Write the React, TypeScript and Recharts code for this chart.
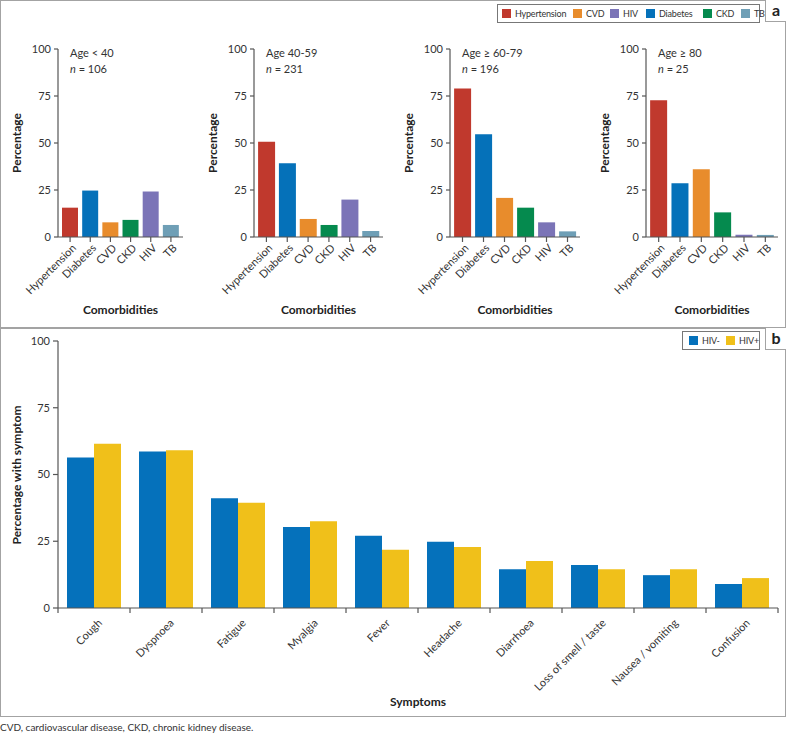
import { BarChart, Bar, XAxis, YAxis, Cell } from "recharts";

// panel a: comorbidities by age group
const comorbidities = ["Hypertension", "Diabetes", "CVD", "CKD", "HIV", "TB"];
const comorbidityColors = ["#c0392d", "#0571b9", "#e88c2c", "#058a4e", "#7b74b7", "#6f9fb6"];
const legendOrder = ["Hypertension", "CVD", "HIV", "Diabetes", "CKD", "TB"];
const ageGroups = ["Age < 40", "Age 40-59", "Age \u2265 60-79", "Age \u2265 80"];
const groupSizes = [106, 231, 196, 25];
const ageUnder40 = [15.6, 24.7, 7.8, 9.1, 24.2, 6.4];
const age40to59 = [50.7, 39.2, 9.6, 6.4, 19.9, 3.2];
const age60to79 = [79.0, 54.7, 20.8, 15.6, 7.8, 3.0];
const age80plus = [72.8, 28.6, 36.1, 13.1, 1.2, 1.1];
const ageSeries = [ageUnder40, age40to59, age60to79, age80plus];

// panel b: symptoms by HIV status
const symptoms = [
  "Cough",
  "Dyspnoea",
  "Fatigue",
  "Myalgia",
  "Fever",
  "Headache",
  "Diarrhoea",
  "Loss of smell / taste",
  "Nausea / vomiting",
  "Confusion",
];
const hivNegative = [56.4, 58.6, 41.1, 30.3, 27.1, 24.8, 14.5, 16.1, 12.3, 9.0];
const hivPositive = [61.5, 59.1, 39.4, 32.5, 21.8, 22.8, 17.6, 14.5, 14.5, 11.2];
const hivLabels = ["HIV-", "HIV+"];
const hivColors = ["#0571bb", "#f0c01a"];

const percentTicks = [0, 25, 50, 75, 100];

const FONT = "Lato, 'Open Sans', sans-serif";
const INK = "#333";
const AXIS = "#555";
const FRAME = "#a3a3a3";

const axisXs = [58, 254, 450, 646];
const plotWidths = [125, 129, 130, 132];
const legendAX = [4, 75, 112, 148, 205, 243];
const legendBX = [6, 43];

function SlantTickA({ x, y, payload }: any) {
  const ax = x + 4;
  const ay = y + 2;
  return (
    <text
      x={ax}
      y={ay}
      dy="0.35em"
      transform={`rotate(-45 ${ax} ${ay})`}
      textAnchor="end"
      fontSize={11}
      fill={INK}
      fontFamily={FONT}
    >
      {payload.value}
    </text>
  );
}

function SlantTickB({ x, y, payload, index, visibleTicksCount }: any) {
  const half = payload.offset || 36;
  const ax = x + 6;
  const ay = y + 13;
  const last = index === visibleTicksCount - 1;
  return (
    <g>
      <line x1={x - half} x2={x - half} y1={y} y2={y + 5} stroke={AXIS} strokeWidth={1.2} />
      {last && <line x1={x + half} x2={x + half} y1={y} y2={y + 5} stroke={AXIS} strokeWidth={1.2} />}
      <text
        x={ax}
        y={ay}
        dy="0.35em"
        transform={`rotate(-45 ${ax} ${ay})`}
        textAnchor="end"
        fontSize={11}
        fill={INK}
        fontFamily={FONT}
      >
        {payload.value}
      </text>
    </g>
  );
}

function AgeChart({ idx }: { idx: number }) {
  const data = comorbidities.map((name, i) => ({ name, value: ageSeries[idx][i] }));
  const axisX = axisXs[idx];
  const plotW = plotWidths[idx];
  const yW = 40;
  return (
    <div style={{ position: "absolute", left: axisX - yW, top: 0 }}>
      <BarChart
        width={yW + plotW + 4}
        height={327}
        data={data}
        margin={{ top: 49, right: 4, left: 0, bottom: 20 }}
        barCategoryGap="10%"
      >
        <XAxis
          dataKey="name"
          interval={0}
          height={70}
          tick={<SlantTickA />}
          tickSize={5}
          tickMargin={2}
          axisLine={{ stroke: AXIS, strokeWidth: 1.2 }}
          tickLine={{ stroke: AXIS, strokeWidth: 1.2 }}
          padding={{ left: 2, right: 2 }}
        />
        <YAxis
          width={yW}
          domain={[0, 100]}
          ticks={percentTicks}
          tickSize={4}
          tickMargin={3}
          axisLine={{ stroke: AXIS, strokeWidth: 1.2 }}
          tickLine={{ stroke: AXIS, strokeWidth: 1.2 }}
          tick={{ fontSize: 11, fill: INK, fontFamily: FONT }}
        />
        <Bar dataKey="value" isAnimationActive={false}>
          {data.map((d, i) => (
            <Cell key={d.name} fill={comorbidityColors[i]} />
          ))}
        </Bar>
      </BarChart>
      <div
        style={{
          position: "absolute",
          left: yW + 12,
          top: 45,
          fontSize: 11,
          color: INK,
          lineHeight: "16px",
          fontFamily: FONT,
          whiteSpace: "nowrap",
        }}
      >
        <div>{ageGroups[idx]}</div>
        <div>
          <i>n</i> = {groupSizes[idx]}
        </div>
      </div>
      <div
        style={{
          position: "absolute",
          left: -51,
          top: 143 - 8,
          width: 100,
          textAlign: "center",
          transform: "rotate(-90deg)",
          fontSize: 12,
          fontWeight: 700,
          color: "#222",
          fontFamily: FONT,
          lineHeight: "16px",
        }}
      >
        Percentage
      </div>
      <div
        style={{
          position: "absolute",
          left: yW + plotW / 2 - 60,
          top: 302,
          width: 120,
          textAlign: "center",
          fontSize: 12,
          fontWeight: 700,
          color: "#222",
          fontFamily: FONT,
        }}
      >
        Comorbidities
      </div>
    </div>
  );
}

function LegendItem({ label, color, left }: { label: string; color: string; left: number }) {
  return (
    <span
      style={{
        position: "absolute",
        left,
        top: 0,
        height: "100%",
        display: "inline-flex",
        alignItems: "center",
        whiteSpace: "nowrap",
      }}
    >
      <span style={{ width: 9, height: 9, background: color, marginRight: 4, display: "inline-block" }} />
      {label}
    </span>
  );
}

const tagStyle = {
  position: "absolute" as const,
  left: 765,
  width: 21,
  height: 22,
  borderLeft: `1.5px solid ${FRAME}`,
  borderBottom: `1.5px solid ${FRAME}`,
  boxSizing: "border-box" as const,
  fontSize: 16,
  fontWeight: 700,
  color: "#222",
  textAlign: "center" as const,
  lineHeight: "19px",
  background: "#fff",
};

const legendBoxStyle = {
  position: "absolute" as const,
  height: 19,
  border: "1px solid #777",
  boxSizing: "border-box" as const,
  fontSize: 9,
  letterSpacing: -0.2,
  color: INK,
};

export default function App() {
  const symptomData = symptoms.map((name, i) => ({
    name,
    neg: hivNegative[i],
    pos: hivPositive[i],
  }));
  return (
    <div
      style={{
        position: "absolute",
        left: 0,
        top: 0,
        width: 787,
        height: 734,
        background: "#fff",
        fontFamily: FONT,
        color: INK,
      }}
    >
      {/* frame */}
      <div
        style={{
          position: "absolute",
          left: 0,
          top: 0,
          width: 786,
          height: 717,
          border: `1.5px solid ${FRAME}`,
          boxSizing: "border-box",
        }}
      />
      <div style={{ position: "absolute", left: 0, top: 327, width: 786, height: 1.5, background: FRAME }} />

      {/* panel tags */}
      <div style={{ ...tagStyle, top: 0 }}>a</div>
      <div style={{ ...tagStyle, top: 328 }}>b</div>

      {/* legend a */}
      <div style={{ ...legendBoxStyle, left: 497, top: 4, width: 263 }}>
        {legendOrder.map((name, i) => (
          <LegendItem
            key={name}
            label={name}
            left={legendAX[i]}
            color={comorbidityColors[comorbidities.indexOf(name)]}
          />
        ))}
      </div>

      {[0, 1, 2, 3].map((i) => (
        <AgeChart key={i} idx={i} />
      ))}

      {/* panel b */}
      <div style={{ position: "absolute", left: 0, top: 328 }}>
        <BarChart
          width={787}
          height={389}
          data={symptomData}
          margin={{ top: 13, right: 9, left: 0, bottom: 29 }}
          barCategoryGap="12.5%"
          barGap={0}
        >
          <XAxis
            dataKey="name"
            interval={0}
            height={80}
            tick={<SlantTickB />}
            tickSize={0}
            tickMargin={0}
            tickLine={false}
            axisLine={{ stroke: AXIS, strokeWidth: 1.2 }}
          />
          <YAxis
            width={58}
            domain={[0, 100]}
            ticks={percentTicks}
            tickSize={5}
            tickMargin={3}
            axisLine={{ stroke: AXIS, strokeWidth: 1.2 }}
            tickLine={{ stroke: AXIS, strokeWidth: 1.2 }}
            tick={{ fontSize: 11, fill: INK, fontFamily: FONT }}
          />
          <Bar dataKey="neg" name={hivLabels[0]} fill={hivColors[0]} isAnimationActive={false} />
          <Bar dataKey="pos" name={hivLabels[1]} fill={hivColors[1]} isAnimationActive={false} />
        </BarChart>
      </div>

      {/* legend b */}
      <div style={{ ...legendBoxStyle, left: 682, top: 331, width: 78 }}>
        {hivLabels.map((l, i) => (
          <LegendItem key={l} label={l} left={legendBX[i]} color={hivColors[i]} />
        ))}
      </div>

      <div
        style={{
          position: "absolute",
          left: 17 - 90,
          top: 475 - 8,
          width: 180,
          textAlign: "center",
          transform: "rotate(-90deg)",
          fontSize: 12,
          fontWeight: 700,
          color: "#222",
          lineHeight: "16px",
        }}
      >
        Percentage with symptom
      </div>
      <div
        style={{
          position: "absolute",
          left: 418 - 60,
          top: 694,
          width: 120,
          textAlign: "center",
          fontSize: 12,
          fontWeight: 700,
          color: "#222",
        }}
      >
        Symptoms
      </div>

      <div style={{ position: "absolute", left: 0, top: 721, fontSize: 10, color: INK }}>
        CVD, cardiovascular disease, CKD, chronic kidney disease.
      </div>
    </div>
  );
}
